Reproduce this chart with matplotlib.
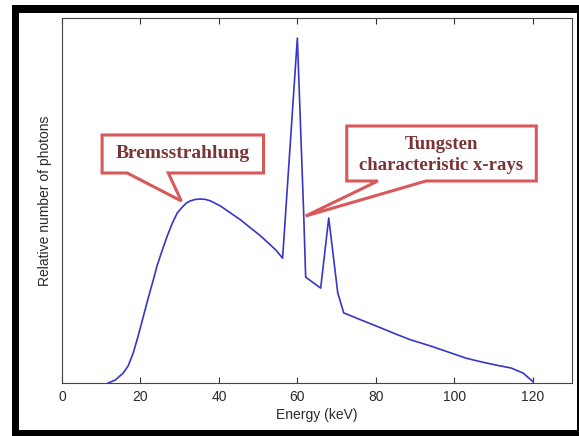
import matplotlib
matplotlib.use("Agg")
import matplotlib.pyplot as plt
from matplotlib.patches import Rectangle, Polygon

# Data
energy = [11.76, 13.55, 15.59, 16.87, 18.15, 19.42, 20.70, 21.98, 23.26, 24.28, 25.56,
          26.84, 28.12, 29.39, 30.67, 31.69, 32.72, 33.99, 35.27, 36.55, 37.83, 40.38,
          42.94, 45.50, 48.05, 50.61, 53.16, 54.70, 56.23, 59.99, 61.60, 62.11, 65.94,
          67.99, 70.29, 71.82, 76.17, 81.28, 85.11, 88.95, 94.06, 98.40, 103.00, 106.84,
          110.67, 114.50, 117.57, 120.13]
photons = [0.0, 0.008, 0.027, 0.047, 0.082, 0.129, 0.181, 0.233, 0.282, 0.323, 0.364,
           0.403, 0.438, 0.466, 0.482, 0.493, 0.499, 0.503, 0.504, 0.503, 0.499, 0.485,
           0.466, 0.447, 0.425, 0.403, 0.378, 0.362, 0.342, 0.945, 0.466, 0.290, 0.260,
           0.452, 0.247, 0.192, 0.173, 0.151, 0.134, 0.118, 0.101, 0.085, 0.068, 0.058,
           0.049, 0.041, 0.027, 0.003]
xticks = [0, 20, 40, 60, 80, 100, 120]

W, H = 579, 436
fig = plt.figure(figsize=(W / 100, H / 100), dpi=100)
fig.patch.set_facecolor("white")

# black picture border
fig.patches.append(Rectangle((12 / W, 0), 1 - 12 / W, 1 - 5 / H, transform=fig.transFigure,
                             facecolor="black", edgecolor="none", zorder=-10))
fig.patches.append(Rectangle((19 / W, 6 / H), (577 - 19) / W, (430 - 13) / H,
                             transform=fig.transFigure, facecolor="white",
                             edgecolor="none", zorder=-9))

ax = fig.add_axes([62 / W, (H - 383) / H, (572 - 62) / W, (383 - 18) / H])
ax.plot(energy, photons, color="#3636c8", lw=1.2, zorder=2)
ax.set_xlim(0, 130)
ax.set_ylim(0, 1)
ax.set_xticks(xticks)
ax.set_yticks([])
ax.tick_params(axis="x", direction="in", top=True, length=4, width=0.8, color="#333333",
               labelsize=10, labelcolor="#2a2a2a", pad=5)
for lab in ax.get_xticklabels():
    lab.set_fontfamily("Liberation Sans")
for s in ax.spines.values():
    s.set_color("#444444")
    s.set_linewidth(0.8)
ax.set_xlabel("Energy (keV)", fontsize=10, family="Liberation Sans", color="#2a2a2a", labelpad=3)
ax.set_ylabel("Relative number of photons", fontsize=10, family="Liberation Sans",
              color="#2a2a2a", labelpad=7)

red = "#d9585a"
txtc = "#7a3436"

def px(x, y):
    return ((x - 62) / 3.9125, (383 - y) / 365.0)

# Bremsstrahlung callout
pts = [px(102, 135), px(263, 135), px(263, 173), px(168, 173), px(181, 201),
       px(127, 173), px(102, 173)]
ax.add_patch(Polygon(pts, closed=True, facecolor="white", edgecolor=red, lw=2.2,
                     zorder=5, clip_on=False, joinstyle="miter"))
bx, by = px(182.5, 154)
ax.text(bx, by, "Bremsstrahlung", ha="center", va="center", fontsize=14,
        fontweight="bold", family="Liberation Serif", color=txtc, zorder=6)

# Tungsten callout
pts2 = [px(346, 126), px(535, 126), px(535, 181), px(425, 181), px(305, 216),
        px(377, 181), px(346, 181)]
ax.add_patch(Polygon(pts2, closed=True, facecolor="white", edgecolor=red, lw=2.2,
                     zorder=5, clip_on=False, joinstyle="miter"))
tx, ty = px(440.5, 155)
ax.text(tx, ty, "Tungsten\ncharacteristic x-rays", ha="center", va="center", fontsize=13.5,
        fontweight="bold", family="Liberation Serif", color=txtc, zorder=6,
        linespacing=1.25)

fig.savefig("out.png", dpi=100)
